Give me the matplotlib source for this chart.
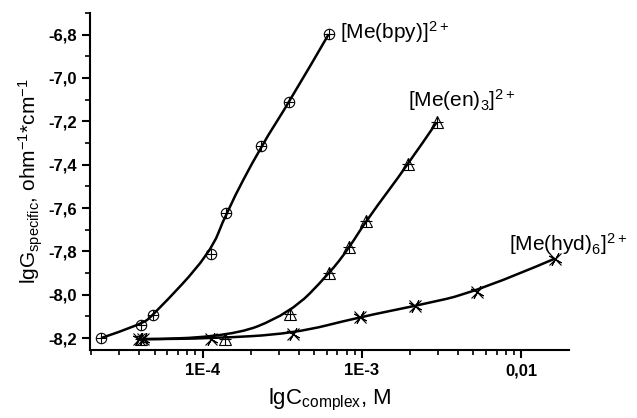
import matplotlib
matplotlib.use("Agg")
import numpy as np
import matplotlib.pyplot as plt
from matplotlib.path import Path
from matplotlib.patches import PathPatch
from matplotlib.ticker import FixedLocator, FixedFormatter, LogLocator, MultipleLocator, NullFormatter

plt.rcParams["font.family"] = ["Liberation Sans", "DejaVu Sans"]
plt.rcParams["mathtext.default"] = "regular"

# concentrations (M) and lg of specific conductance
bpy_c = [2.3e-5, 4.1e-5, 4.9e-5, 1.12e-4, 1.40e-4, 2.33e-4, 3.50e-4, 6.18e-4]
bpy_g = [-8.20, -8.138, -8.094, -7.810, -7.622, -7.313, -7.111, -6.798]

en_c = [4.1e-5, 1.38e-4, 3.53e-4, 6.24e-4, 8.33e-4, 1.06e-3, 1.95e-3, 2.94e-3]
en_g = [-8.205, -8.205, -8.087, -7.902, -7.782, -7.659, -7.398, -7.205]

hyd_c = [4.0e-5, 4.2e-5, 1.12e-4, 3.71e-4, 9.7e-4, 2.15e-3, 5.3e-3, 1.63e-2]
hyd_g = [-8.205, -8.205, -8.202, -8.18, -8.103, -8.052, -7.987, -7.833]

labels = [r"[Me(bpy)]$^{2+}$", r"[Me(en)$_3$]$^{2+}$", r"[Me(hyd)$_6$]$^{2+}$"]
label_pos = [(7.3e-4, -6.79), (1.95e-3, -7.10), (8.4e-3, -7.765)]

x_ticks = [1e-4, 1e-3, 1e-2]
x_ticklabels = ["1E-4", "1E-3", "0,01"]
y_ticks = [-8.2, -8.0, -7.8, -7.6, -7.4, -7.2, -7.0, -6.8]
y_ticklabels = ["-8,2", "-8,0", "-7,8", "-7,6", "-7,4", "-7,2", "-7,0", "-6,8"]


def bspline_path(xs, ys):
    # quadratic B-spline style curve: data points act as control points,
    # midpoints (in log-x space) lie on the curve
    lx = np.log10(xs)
    n = len(xs)
    verts = [(xs[0], ys[0])]
    codes = [Path.MOVETO]
    for i in range(1, n - 1):
        if i < n - 2:
            end = (10 ** ((lx[i] + lx[i + 1]) / 2), (ys[i] + ys[i + 1]) / 2)
        else:
            end = (xs[-1], ys[-1])
        verts += [(xs[i], ys[i]), end]
        codes += [Path.CURVE3, Path.CURVE3]
    return Path(verts, codes)


fig = plt.figure(figsize=(6.37, 4.18), dpi=100)
ax = fig.add_axes([0.1413, 0.1627, 0.7517, 0.8063])

ax.set_xscale("log")

for xs, ys in [(bpy_c, bpy_g), (en_c, en_g), (hyd_c, hyd_g)]:
    ax.add_patch(PathPatch(bspline_path(xs, ys), fill=False, edgecolor="black", lw=1.8))

ax.plot(bpy_c, bpy_g, ls="none", marker="o", ms=7.5, mfc="none", mec="black", mew=0.8)
ax.plot(bpy_c, bpy_g, ls="none", marker="+", ms=7.5, mec="black", mew=0.8)

ax.plot(en_c, en_g, ls="none", marker="^", ms=8, mfc="none", mec="black", mew=0.8)
ax.plot(en_c, en_g, ls="none", marker="+", ms=8, mec="black", mew=0.8)

ax.plot(hyd_c, hyd_g, ls="none", marker="x", ms=8, mec="black", mew=0.8)
ax.plot(hyd_c, hyd_g, ls="none", marker=(4, 2, 60), ms=10, mec="black", mew=0.8)

for text, (tx, ty) in zip(labels, label_pos):
    ax.text(tx, ty, text, fontsize=15, va="center", ha="left")

ax.set_xlim(1.96e-5, 0.0199)
ax.set_ylim(-8.255, -6.70)

ax.xaxis.set_major_locator(FixedLocator(x_ticks))
ax.xaxis.set_major_formatter(FixedFormatter(x_ticklabels))
ax.xaxis.set_minor_locator(LogLocator(base=10, subs=range(2, 10)))
ax.xaxis.set_minor_formatter(NullFormatter())
ax.yaxis.set_major_locator(FixedLocator(y_ticks))
ax.yaxis.set_major_formatter(FixedFormatter(y_ticklabels))
ax.yaxis.set_minor_locator(MultipleLocator(0.1))

for side in ["top", "right"]:
    ax.spines[side].set_visible(False)
for side in ["left", "bottom"]:
    ax.spines[side].set_linewidth(1.5)

ax.tick_params(which="major", direction="out", length=6, width=1.5, labelsize=12)
ax.tick_params(which="minor", direction="out", length=3.5, width=1.2)
for lab in ax.get_xticklabels() + ax.get_yticklabels():
    lab.set_fontweight("bold")

ax.set_xlabel(r"lgC$_{complex}$, M", fontsize=16, labelpad=6)
ax.set_ylabel(r"lgG$_{specific}$, ohm$^{-1}$*cm$^{-1}$", fontsize=15, labelpad=2)

fig.savefig("out.png", dpi=100)
